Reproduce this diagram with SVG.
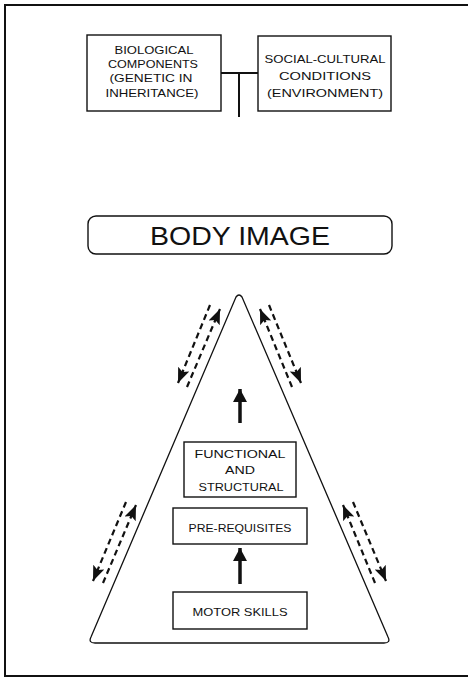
<svg xmlns="http://www.w3.org/2000/svg" width="468" height="680" viewBox="0 0 468 680">
<style>
.box{fill:#fff;stroke:#111;stroke-width:1.4}
.t{font-family:"Liberation Sans",Arial,sans-serif;font-size:11px;fill:#111;text-anchor:middle}
.big{font-family:"Liberation Sans",Arial,sans-serif;font-size:25px;fill:#111;text-anchor:middle}
.dash{fill:none;stroke:#111;stroke-width:2.2;stroke-dasharray:6 4}
.solid{fill:none;stroke:#111;stroke-width:3.5}
.conn{fill:none;stroke:#111;stroke-width:2}
</style>
<defs>
<marker id="ah" markerUnits="userSpaceOnUse" markerWidth="16" markerHeight="14" refX="15" refY="6" orient="auto">
<path d="M0,0 L15,6 L0,12 L3,6 Z" fill="#111"/>
</marker>
<marker id="bh" markerUnits="userSpaceOnUse" markerWidth="15" markerHeight="16" refX="13" refY="7" orient="auto">
<path d="M0,0 L13,7 L0,14 Z" fill="#111"/>
</marker>
</defs>
<rect x="5" y="5" width="470" height="671" fill="#fff" stroke="#111" stroke-width="2"/>

<g id="connectors">
<path class="conn" d="M221,73 H258 M239,73 V117"/>
<path class="solid" d="M240,423 V389" marker-end="url(#bh)"/>
<path class="solid" d="M240,584 V548" marker-end="url(#bh)"/>
<path class="dash" d="M210,305 L178,383" marker-end="url(#ah)"/>
<path class="dash" d="M187,387 L220,309" marker-end="url(#ah)"/>
<path class="dash" d="M292,387 L260,309" marker-end="url(#ah)"/>
<path class="dash" d="M269,305 L301,383" marker-end="url(#ah)"/>
<path class="dash" d="M126,502 L93,581" marker-end="url(#ah)"/>
<path class="dash" d="M103,583 L136,505" marker-end="url(#ah)"/>
<path class="dash" d="M375,583 L343,505" marker-end="url(#ah)"/>
<path class="dash" d="M353,502 L386,581" marker-end="url(#ah)"/>
</g>

<g id="biological">
<rect class="box" x="87" y="35" width="134" height="76"/>
<text class="t" x="154" y="54" textLength="79" lengthAdjust="spacingAndGlyphs">BIOLOGICAL</text>
<text class="t" x="153" y="68" textLength="90" lengthAdjust="spacingAndGlyphs">COMPONENTS</text>
<text class="t" x="151" y="82" textLength="83" lengthAdjust="spacingAndGlyphs">(GENETIC IN</text>
<text class="t" x="152" y="97" textLength="93" lengthAdjust="spacingAndGlyphs">INHERITANCE)</text>
</g>

<g id="social">
<rect class="box" x="258" y="36" width="133" height="75"/>
<text class="t" x="325" y="63" textLength="121" lengthAdjust="spacingAndGlyphs">SOCIAL-CULTURAL</text>
<text class="t" x="325" y="80" textLength="92" lengthAdjust="spacingAndGlyphs">CONDITIONS</text>
<text class="t" x="325" y="97" textLength="116" lengthAdjust="spacingAndGlyphs">(ENVIRONMENT)</text>
</g>

<g id="bodyimage">
<rect class="box" x="88" y="216" width="304" height="38" rx="8"/>
<text class="big" x="240" y="245" textLength="180" lengthAdjust="spacingAndGlyphs">BODY IMAGE</text>
</g>

<g id="triangle">
<path d="M236,297 Q239,293 242,297 L388,637 Q391,643 384,643 L95,643 Q88,643 91,637 Z" fill="none" stroke="#111" stroke-width="1.3"/>
</g>

<g id="functional">
<rect class="box" x="184" y="442" width="112" height="55"/>
<text class="t" x="240" y="458" textLength="91" lengthAdjust="spacingAndGlyphs">FUNCTIONAL</text>
<text class="t" x="240" y="474" textLength="30" lengthAdjust="spacingAndGlyphs">AND</text>
<text class="t" x="241" y="491" textLength="85" lengthAdjust="spacingAndGlyphs">STRUCTURAL</text>
</g>

<g id="prerequisites">
<rect class="box" x="173" y="508" width="134" height="36"/>
<text class="t" x="240" y="532" textLength="103" lengthAdjust="spacingAndGlyphs">PRE-REQUISITES</text>
</g>

<g id="motorskills">
<rect class="box" x="173" y="592" width="134" height="37"/>
<text class="t" x="240" y="616" textLength="95" lengthAdjust="spacingAndGlyphs">MOTOR SKILLS</text>
</g>
</svg>
